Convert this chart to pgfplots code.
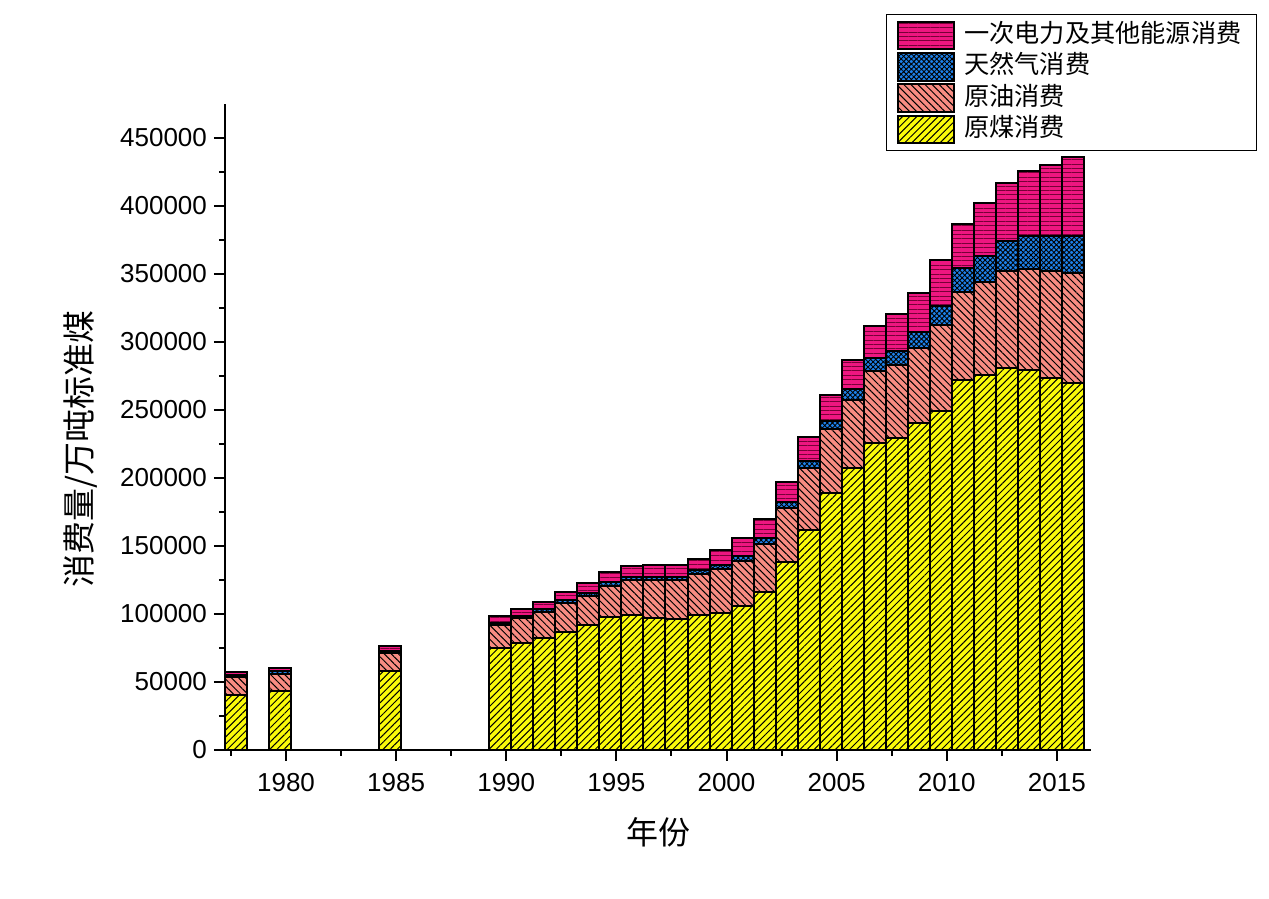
\documentclass[border=0pt]{standalone}
\usepackage{pgfplots}
\usepackage{pgfplotstable}
\pgfplotsset{compat=1.18}
\usetikzlibrary{patterns.meta}
\usepackage{fontspec}
\setmainfont{Liberation Sans}
\newfontfamily\cjk{Noto Sans CJK SC}
\definecolor{cCoal}{RGB}{250,250,10}
\definecolor{cOil}{RGB}{248,140,130}
\definecolor{cGas}{RGB}{30,130,235}
\definecolor{cElec}{RGB}{238,22,128}
\definecolor{cElecL}{RGB}{120,0,55}

\pgfplotstableread{
year coal oil gas elec
1978 40401 12972 1829 1943
1980 43519 12477 1869 2411
1985 58125 13113 1687 3757
1990 75212 16385 2073 5034
1991 78979 17747 2076 4982
1992 82642 19105 2074 5349
1993 86647 21111 2204 6032
1994 92053 21356 2332 6996
1995 97857 22956 2361 8002
1996 99366 25281 2433 8112
1997 97039 27725 2446 8698
1998 96554 28326 2451 8852
1999 99242 30222 2811 8294
2000 100670 32332 3233 10728
2001 105772 32976 3733 13066
2002 116160 35611 3900 13905
2003 138352 39614 4533 14584
2004 161657 45826 5296 17501
2005 189231 46524 6273 19341
2006 207402 50132 7735 21199
2007 225795 52945 9343 23358
2008 229237 53542 10901 26931
2009 240666 55125 11764 28571
2010 249568 62753 14426 33901
2011 271704 65023 17804 32512
2012 275465 68363 19303 39007
2013 280999 71292 22096 42525
2014 279329 74090 24271 48116
2015 273849 78673 25364 52019
2016 270208 80627 27021 57964
}\datatable

\pgfplotsset{myleg/.style={legend image code/.code={\draw[##1, line width=1pt, draw=black] (0pt,-6.9pt) rectangle (28pt,6.9pt);}}}

\begin{document}
\begin{tikzpicture}
\useasboundingbox (0pt,0pt) rectangle (634.5pt,449.5pt);
\begin{axis}[
  at={(112.5pt,74.5pt)}, anchor=south west,
  scale only axis, width=433pt, height=323pt,
  xmin=1977.23, xmax=2016.55, ymin=0, ymax=475000,
  axis x line*=bottom, axis y line*=left,
  axis line style={line width=1.25pt, -},
  ybar stacked, bar width=1, bar shift=-0.27,
  every axis plot post/.append style={myleg},
  tick align=outside,
  major tick length=5.5pt, minor tick length=3pt,
  every tick/.style={black, line width=1pt},
  xtick={1980,1985,...,2015},
  minor xtick={1977.5,1982.5,...,2012.5},
  ytick={0,50000,...,450000},
  minor ytick={25000,75000,...,425000},
  scaled y ticks=false, scaled x ticks=false,
  /pgf/number format/assume math mode=true,
  /pgf/number format/1000 sep={},
  y tick label style={/pgf/number format/fixed},
  ticklabel style={font=\fontsize{13}{15}\selectfont},
  x tick label style={yshift=-2.5pt},
  xlabel={\cjk 年份},
  ylabel={\cjk 消费量/万吨标准煤},
  label style={font=\fontsize{16}{18}\selectfont},
  xlabel style={at={(axis description cs:0.5,-0.127)}, anchor=center},
  ylabel style={at={(axis description cs:-0.167,0.466)}, anchor=center, font=\fontsize{16.5}{18}\selectfont},
  legend style={at={(0.7633,1.1393)}, anchor=north west, draw=black, line width=0.6pt,
    font=\cjk\fontsize{12.6}{14}\selectfont, inner xsep=5.3pt, inner ysep=3pt,
    row sep=0.9pt,
    nodes={inner xsep=0pt, inner ysep=0pt, text height=9.5pt, text depth=2.5pt},
    /tikz/every odd column/.append style={column sep=4.5pt}},
  legend cell align=left,
  reverse legend,
]
\addplot[fill=cCoal, draw=black, line width=1pt,
  postaction={pattern={Lines[angle=45,distance=2.5pt,line width=0.5pt]}, pattern color=black}]
  table[x=year,y=coal]{\datatable};
\addlegendentry{原煤消费}
\addplot[fill=cOil, draw=black, line width=1pt,
  postaction={pattern={Lines[angle=-45,distance=2.5pt,line width=0.5pt]}, pattern color=black}]
  table[x=year,y=oil]{\datatable};
\addlegendentry{原油消费}
\addplot[fill=cGas, draw=black, line width=1pt,
  postaction={pattern={Lines[angle=45,distance=1.8pt,line width=0.45pt]}, pattern color=black},
  postaction={pattern={Lines[angle=-45,distance=1.8pt,line width=0.45pt]}, pattern color=black}]
  table[x=year,y=gas]{\datatable};
\addlegendentry{天然气消费}
\addplot[fill=cElec, draw=black, line width=1pt,
  postaction={pattern={Lines[angle=0,distance=2.2pt,line width=0.5pt]}, pattern color=cElecL}]
  table[x=year,y=elec]{\datatable};
\addlegendentry{一次电力及其他能源消费\hspace*{2.2pt}}
\end{axis}
\end{tikzpicture}
\end{document}
